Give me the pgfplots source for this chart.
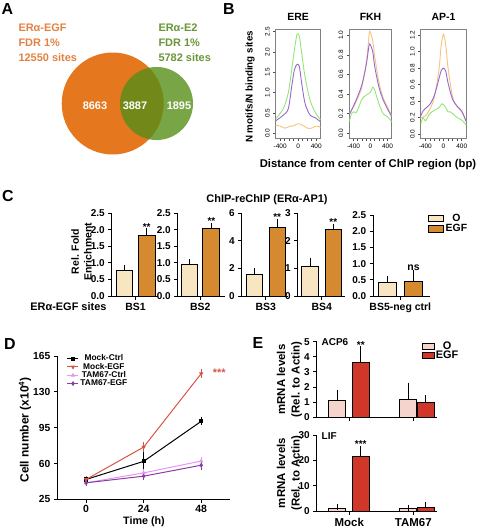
\documentclass[border=0pt]{standalone}
\usepackage{fontspec}
\setmainfont{Liberation Sans}
\usepackage{pgfplots}
\pgfplotsset{compat=1.18}
\definecolor{vennO}{RGB}{229,120,30}
\definecolor{vennG}{RGB}{86,142,24}
\definecolor{txtO}{RGB}{226,130,65}
\definecolor{txtG}{RGB}{105,150,55}
\definecolor{bOr}{RGB}{245,195,125}
\definecolor{bPu}{RGB}{150,105,210}
\definecolor{bGr}{RGB}{150,228,120}
\definecolor{cO}{RGB}{248,230,195}
\definecolor{cE}{RGB}{214,138,48}
\definecolor{dRed}{RGB}{215,85,70}
\definecolor{dPink}{RGB}{228,150,240}
\definecolor{dPur}{RGB}{140,60,165}
\definecolor{eO}{RGB}{245,212,206}
\definecolor{eE}{RGB}{208,55,40}
\newcommand{\fs}[1]{\fontsize{#1}{#1}\selectfont}
\pgfplotsset{
  /pgf/number format/assume math mode=true,
  bax/.style={scale only axis, anchor=north west, height=109bp,
    xmin=-500, xmax=500, xtick={-400,0,400},
    minor xtick={-300,-200,-100,100,200,300},
    tick pos=left, tick align=outside, major tick length=2.5bp, minor tick length=2.5bp,
    axis line style={draw=black!50, line width=1.2bp},
    tick style={black!70, line width=0.6bp},
    ticklabel style={font=\fs{6.5}},
    xticklabel style={yshift=0.5bp},
    yticklabel style={rotate=90, anchor=south, /pgf/number format/.cd, fixed, fixed zerofill, precision=1},
    title style={font=\bfseries\fs{10.5}, at={(0.5,1)}, anchor=south, yshift=-1bp},
    every axis plot/.append style={line width=0.9bp, smooth}},
  gpax/.style={scale only axis, anchor=north west, ymin=0, xmin=0,
    axis x line*=bottom, axis y line*=left, axis line style={-, line width=1bp},
    tick align=outside, major tick length=3.5bp, tick style={line width=1bp, black},
    ticklabel style={font=\bfseries\fs{10}},
    xticklabel style={font=\bfseries\fs{10.5}},
    clip=false,
    error bars/y dir=plus, error bars/y explicit,
    error bars/error mark=-,
    error bars/error mark options={line width=1bp, mark size=3bp, black},
    error bars/error bar style={line width=1bp, black}},
  cdec/.style={yticklabel style={/pgf/number format/.cd, fixed, fixed zerofill, precision=1}},
  gbar/.style={ybar, bar shift=0pt, draw=black, line width=1bp, fill=#1,
    legend image code/.code={\draw[draw=black, fill=#1, line width=1bp] (0bp,-3.2bp) rectangle (15bp,3.2bp);}},
  ebar/.style={ybar, bar shift=0pt, draw=black, line width=1bp, fill=#1,
    legend image code/.code={\draw[draw=black, fill=#1, line width=1bp] (0bp,-3bp) rectangle (11.5bp,3bp);}},
}
\begin{document}
\begin{tikzpicture}
\path[use as bounding box] (0,0) rectangle (483bp,-528bp);
% panel letters
\node[font=\bfseries\fs{16}] at (7.5bp,-9bp) {A};
\node[font=\bfseries\fs{16}] at (229bp,-9bp) {B};
\node[font=\bfseries\fs{16}] at (8bp,-196bp) {C};
\node[font=\bfseries\fs{16}] at (10bp,-344bp) {D};
\node[font=\bfseries\fs{16}] at (258bp,-343bp) {E};

% ---------------- A: Venn
\begin{axis}[at={(0bp,0bp)}, anchor=north west, scale only axis, width=240bp, height=180bp,
  xmin=0, xmax=240, ymin=0, ymax=180, y dir=reverse, hide axis, clip=false]
  \fill[vennO] (axis cs:112.7,103.5) circle[radius=51];
  \fill[vennG, fill opacity=0.8] (axis cs:156.5,103.5) circle[radius=36.5];
  \node[anchor=west, text=txtO, font=\bfseries\fs{11}] at (axis cs:15,28) {ERα-EGF};
  \node[anchor=west, text=txtO, font=\bfseries\fs{11}] at (axis cs:15,43) {FDR 1\%};
  \node[anchor=west, text=txtO, font=\bfseries\fs{11}] at (axis cs:15,57.5) {12550 sites};
  \node[anchor=west, text=txtG, font=\bfseries\fs{11}] at (axis cs:155,28) {ERα-E2};
  \node[anchor=west, text=txtG, font=\bfseries\fs{11}] at (axis cs:155,43) {FDR 1\%};
  \node[anchor=west, text=txtG, font=\bfseries\fs{11}] at (axis cs:155,57.5) {5782 sites};
  \node[text=white, font=\bfseries\fs{11}] at (axis cs:95,106) {8663};
  \node[text=white, font=\bfseries\fs{11}] at (axis cs:135,106) {3887};
  \node[text=white, font=\bfseries\fs{11}] at (axis cs:179,106) {1895};
\end{axis}

% ---------------- B
\node[rotate=90, font=\bfseries\fs{9.8}] at (250bp,-87bp) {N motifs/N binding sites};
\node[font=\bfseries\fs{11.3}] at (368bp,-165bp) {Distance from center of ChIP region (bp)};
\begin{axis}[bax, at={(275.7bp,-29.3bp)}, width=45bp, ymin=-0.12, ymax=2.56,
  ytick={0,0.5,1,1.5,2,2.5}, title={ERE}]
  \addplot[bOr] coordinates {(-500,0.2) (-400,0.18) (-300,0.13) (-200,0.17) (-100,0.19) (0,0.24) (100,0.2) (200,0.13) (300,0.13) (400,0.18) (500,0.15)};
  \addplot[bGr] coordinates {(-500,0.36) (-330,0.61) (-220,1.0) (-145,1.56) (-85,2.05) (-25,2.44) (26,2.38) (78,1.97) (152,1.39) (263,0.82) (374,0.53) (500,0.33)};
  \addplot[bPu] coordinates {(-500,0.31) (-330,0.45) (-220,0.61) (-145,1.15) (-85,1.56) (-25,1.7) (26,1.64) (78,1.23) (152,0.74) (263,0.45) (374,0.39) (500,0.28)};
\end{axis}
\begin{axis}[bax, at={(349.3bp,-29.3bp)}, width=42.4bp, ymin=-0.05, ymax=1.06,
  ytick={0,0.2,0.4,0.6,0.8,1.0}, title={FKH}]
  \addplot[bOr] coordinates {(-500,0.2) (-400,0.27) (-300,0.36) (-200,0.48) (-100,0.72) (-50,0.92) (-20,1.04) (50,0.95) (100,0.78) (200,0.52) (300,0.36) (400,0.27) (500,0.18)};
  \addplot[bPu] coordinates {(-500,0.19) (-400,0.28) (-300,0.38) (-200,0.5) (-100,0.7) (-50,0.85) (-20,0.91) (50,0.84) (100,0.68) (200,0.47) (300,0.34) (400,0.25) (500,0.17)};
  \addplot[bGr] coordinates {(-500,0.12) (-450,0.2) (-400,0.22) (-350,0.21) (-300,0.24) (-200,0.35) (-100,0.39) (0,0.42) (50,0.47) (100,0.44) (200,0.3) (300,0.2) (400,0.17) (500,0.12)};
\end{axis}
\begin{axis}[bax, at={(420.7bp,-29.3bp)}, width=45.6bp, ymin=-0.05, ymax=1.27,
  ytick={0,0.2,0.4,0.6,0.8,1.0,1.2}, title={AP-1}]
  \addplot[bOr] coordinates {(-500,0.2) (-400,0.22) (-300,0.3) (-200,0.45) (-100,0.78) (-50,1.08) (0,1.21) (50,1.08) (100,0.8) (200,0.45) (300,0.33) (400,0.27) (500,0.15)};
  \addplot[bPu] coordinates {(-500,0.22) (-450,0.28) (-400,0.31) (-300,0.36) (-200,0.47) (-100,0.67) (-50,0.77) (0,0.8) (50,0.76) (100,0.62) (200,0.42) (300,0.34) (400,0.28) (500,0.15)};
  \addplot[bGr] coordinates {(-500,0.12) (-450,0.2) (-400,0.16) (-350,0.2) (-300,0.25) (-200,0.29) (-100,0.32) (-30,0.37) (50,0.32) (100,0.27) (150,0.27) (200,0.25) (300,0.2) (400,0.17) (500,0.11)};
\end{axis}

% ---------------- C
\node[font=\bfseries\fs{11}] at (267bp,-200bp) {ChIP-reChIP (ERα-AP1)};
\node[rotate=90, align=center, font=\bfseries\fs{10.5}] at (81.5bp,-251.7bp) {Rel. Fold\\[2.5bp]Enrichment};
\node[anchor=base east, font=\bfseries\fs{11}] at (110bp,-310.5bp) {ERα-EGF sites};
\begin{axis}[gpax, cdec, at={(111.7bp,-213.3bp)}, width=46.6bp, height=82.7bp, xmax=46.6, ymax=2.5,
  ytick={0,0.5,1,1.5,2,2.5}, xtick={23.8}, xticklabels={BS1}]
  \addplot[gbar=cO, bar width=16.6bp] coordinates {(12.6,0.77) +- (0,0.07)};
  \addplot[gbar=cE, bar width=16.6bp] coordinates {(35,1.82) +- (0,0.13)};
  \node[anchor=south, font=\bfseries\fs{10}, inner sep=1bp] at (axis cs:35,1.95) {**};
\end{axis}
\begin{axis}[gpax, cdec, at={(177.7bp,-213.3bp)}, width=47bp, height=82.7bp, xmax=47, ymax=2.5,
  ytick={0,0.5,1,1.5,2,2.5}, xtick={22.6}, xticklabels={BS2}]
  \addplot[gbar=cO, bar width=16.4bp] coordinates {(11.5,0.95) +- (0,0.07)};
  \addplot[gbar=cE, bar width=17bp] coordinates {(33.7,2.03) +- (0,0.1)};
  \node[anchor=south, font=\bfseries\fs{10}, inner sep=1bp] at (axis cs:33.7,2.13) {**};
\end{axis}
\begin{axis}[gpax, at={(241.7bp,-213.3bp)}, width=46.3bp, height=82.7bp, xmax=46.3, ymax=6,
  ytick={0,2,4,6}, xtick={24}, xticklabels={BS3}]
  \addplot[gbar=cO, bar width=16.6bp] coordinates {(12.6,1.55) +- (0,0.25)};
  \addplot[gbar=cE, bar width=16bp] coordinates {(35.5,5.0) +- (0,0.4)};
  \node[anchor=south, font=\bfseries\fs{10}, inner sep=1bp] at (axis cs:35.5,5.4) {**};
\end{axis}
\begin{axis}[gpax, at={(297.7bp,-213.3bp)}, width=47.3bp, height=82.7bp, xmax=47.3, ymax=3,
  ytick={0,1,2,3}, xtick={24}, xticklabels={BS4}]
  \addplot[gbar=cO, bar width=16.6bp] coordinates {(12.3,1.08) +- (0,0.2)};
  \addplot[gbar=cE, bar width=16.6bp] coordinates {(35.6,2.4) +- (0,0.12)};
  \node[anchor=south, font=\bfseries\fs{10}, inner sep=1bp] at (axis cs:35.6,2.52) {**};
\end{axis}
\begin{axis}[gpax, cdec, at={(373.3bp,-215bp)}, width=56.7bp, height=81bp, xmax=56.7, ymax=2.5,
  ytick={0,0.5,1,1.5,2,2.5}, xtick={27}, xticklabels={BS5-neg ctrl},
  legend style={at={(axis description cs:0.965,1.03)}, anchor=north west, draw=none, fill=none,
    font=\bfseries\fs{10.5}, row sep=-1.5bp, inner sep=0pt, nodes={inner sep=1.5bp}}]
  \addplot[gbar=cO, bar width=17.7bp] coordinates {(13.9,0.42) +- (0,0.1)};
  \addplot[gbar=cE, bar width=18.4bp] coordinates {(40.2,0.45) +- (0,0.27)};
  \legend{O,EGF}
  \node[anchor=south, font=\bfseries\fs{10.5}, inner sep=1bp] at (axis cs:40.2,0.74) {ns};
\end{axis}

% ---------------- D
\node[rotate=90, font=\bfseries\fs{12}] at (25bp,-430bp) {Cell number (x10\textsuperscript{4})};
\node[font=\bfseries\fs{10.8}] at (144bp,-521.5bp) {Time (h)};
\begin{axis}[gpax, at={(57.3bp,-356bp)}, width=172.7bp, height=143.3bp,
  xmin=-12, xmax=60, ymin=25, ymax=165, xtick={0,24,48}, ytick={25,60,95,130,165},
  ticklabel style={font=\bfseries\fs{10.3}}, xticklabel style={font=\bfseries\fs{10.5}, yshift=1bp},
  error bars/y dir=both,
  every axis plot/.append style={line width=1bp, mark size=1.6bp},
  legend style={at={(axis description cs:0.055,1.02)}, anchor=north west, draw=none, fill=none,
    font=\bfseries\fs{8.4}, row sep=-2.2bp, inner sep=0pt, nodes={inner sep=1.5bp}},
  legend image code/.code={\draw[#1] (0bp,0bp) -- (11bp,0bp); \draw[#1, mark repeat=1] plot coordinates {(5.5bp,0bp)};}]
  \addplot[black, mark=square*, error bars/error bar style={black, line width=0.8bp}, error bars/error mark options={black, line width=0.8bp, mark size=2bp}]
    coordinates {(0,44.4) +- (0,1) (24,62.1) +- (0,11) (48,101.2) +- (0,2)};
  \addplot[dRed, mark=triangle*, mark options={rotate=180}, error bars/error bar style={dRed, line width=0.8bp}, error bars/error mark options={dRed, line width=0.8bp, mark size=2bp}]
    coordinates {(0,44.4) +- (0,1) (24,76) +- (0,3) (48,147.8) +- (0,2.5)};
  \addplot[dPink, mark=triangle*, error bars/error bar style={dPink, line width=0.8bp}, error bars/error mark options={dPink, line width=0.8bp, mark size=2bp}]
    coordinates {(0,41.1) +- (0,1) (24,50.8) +- (0,2) (48,62.4) +- (0,2)};
  \addplot[dPur, mark=diamond*, error bars/error bar style={dPur, line width=0.8bp}, error bars/error mark options={dPur, line width=0.8bp, mark size=2bp}]
    coordinates {(0,41.1) +- (0,1) (24,47.6) +- (0,2) (48,58.3) +- (0,2.5)};
  \legend{Mock-Ctrl,Mock-EGF,TAM67-Ctrl,TAM67-EGF}
  \node[text=dRed, font=\bfseries\fs{11}] at (axis cs:55.5,149) {***};
\end{axis}

% ---------------- E
\node[rotate=90, align=center, font=\bfseries\fs{11.5}] at (289.5bp,-379.5bp) {mRNA levels\\[3bp](Rel. to Actin)};
\node[rotate=90, align=center, font=\bfseries\fs{11.5}] at (289.5bp,-473bp) {mRNA levels\\[3bp](Rel. to Actin)};
\begin{axis}[gpax, at={(316.7bp,-341.7bp)}, width=120bp, height=75.6bp, xmax=120, ymax=5,
  ytick={0,1,2,3,4,5}, xtick={32.6,96.6}, xticklabels={},
  legend style={at={(rel axis cs:0.8775,1.02)}, anchor=north west, draw=none, fill=none,
    font=\bfseries\fs{11}, row sep=-2bp, inner sep=0pt, nodes={inner sep=1.2bp}}]
  \addplot[ebar=eO, bar width=16.7bp] coordinates {(20.6,1.1) +- (0,0.5) (91.3,1.2) +- (0,0.9)};
  \addplot[ebar=eE, bar width=16.4bp] coordinates {(44.1,3.65) +- (0,0.85) (109.1,1.0) +- (0,0.25)};
  \legend{O,EGF}
  \node[anchor=south, font=\bfseries\fs{10}, inner sep=1bp] at (axis cs:44.1,4.5) {**};
  \node[anchor=west, font=\bfseries\fs{10}, inner sep=0pt] at (rel axis cs:0.04,0.99) {ACP6};
\end{axis}
\begin{axis}[gpax, at={(316.7bp,-435bp)}, width=120bp, height=76bp, xmax=120, ymax=30,
  ytick={0,10,20,30}, xtick={32.6,96.6}, xticklabels={Mock,TAM67},
  xticklabel style={font=\bfseries\fs{11.5}}]
  \addplot[ebar=eO, bar width=16.7bp] coordinates {(20.6,1.0) +- (0,0.5) (91.3,1.0) +- (0,0.2)};
  \addplot[ebar=eE, bar width=16.4bp] coordinates {(44.1,21.5) +- (0,3) (109.1,1.5) +- (0,0.7)};
  \node[anchor=south, font=\bfseries\fs{10}, inner sep=1bp] at (axis cs:44.1,24.5) {***};
  \node[anchor=west, font=\bfseries\fs{10}, inner sep=0pt] at (rel axis cs:0.04,0.99) {LIF};
\end{axis}
\end{tikzpicture}
\end{document}
